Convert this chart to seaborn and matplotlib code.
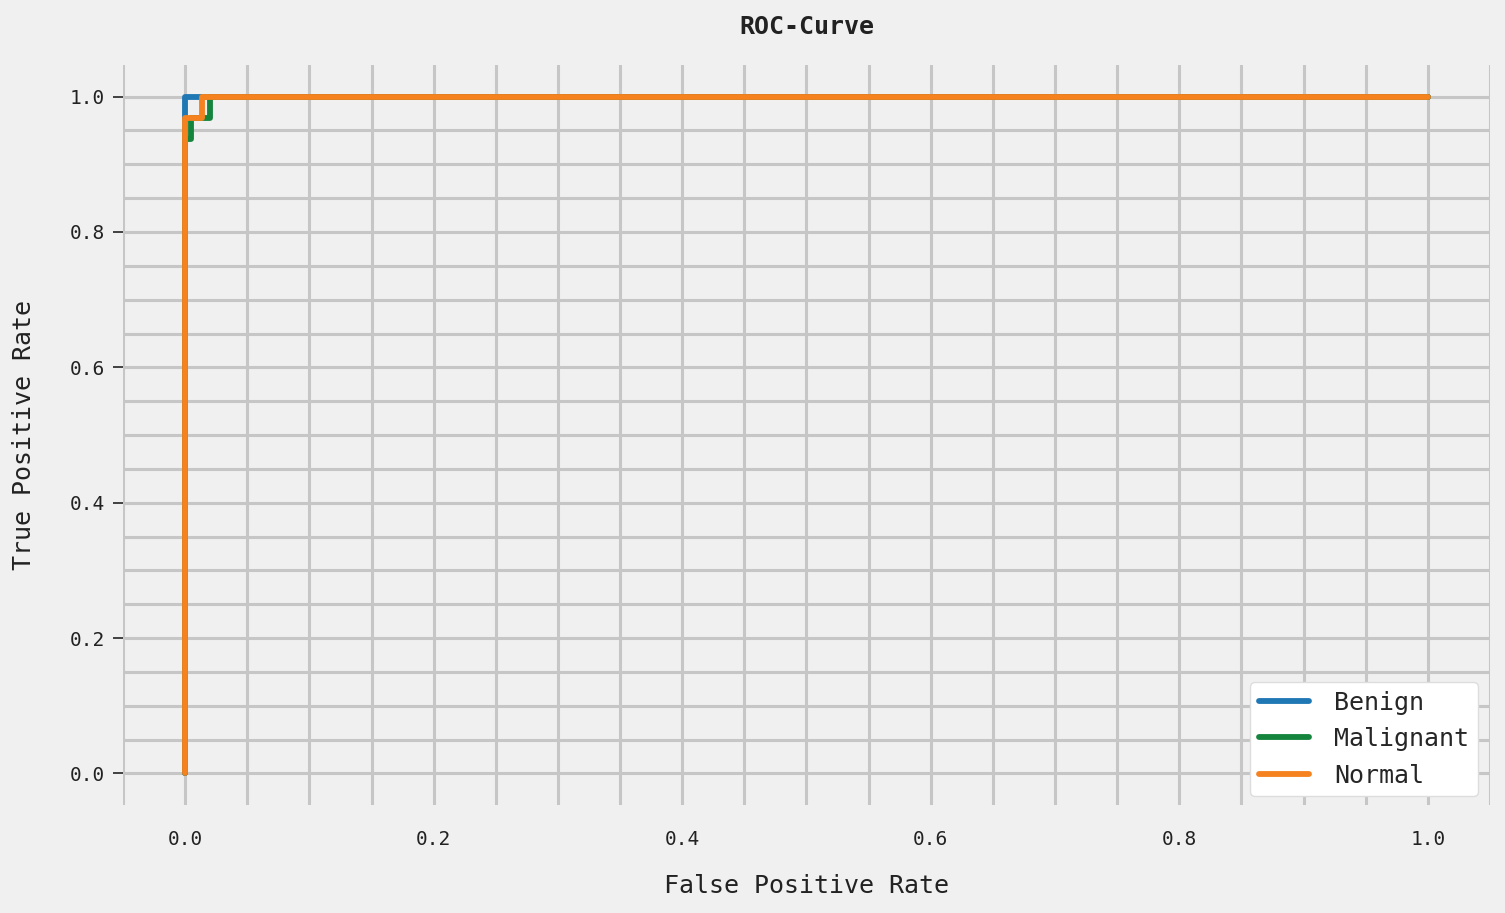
import numpy as np
import pandas as pd
import matplotlib
matplotlib.use("Agg")
import matplotlib.pyplot as plt
import seaborn as sns
from matplotlib.ticker import MultipleLocator

# ROC curve data
benign_fpr = [0.0, 0.0, 0.0, 1.0]
benign_tpr = [0.0, 0.0, 1.0, 1.0]
malignant_fpr = [0.0, 0.0, 0.005, 0.005, 0.020, 0.020, 1.0]
malignant_tpr = [0.0, 0.938, 0.938, 0.969, 0.969, 1.0, 1.0]
normal_fpr = [0.0, 0.0, 0.014, 0.014, 1.0]
normal_tpr = [0.0, 0.969, 0.969, 1.0, 1.0]
classes = ["Benign", "Malignant", "Normal"]
colors = ["#1f77b4", "#15843c", "#f5821f"]

sns.set_theme(style="whitegrid", rc={"ytick.left": True, "ytick.major.size": 6,
                                     "ytick.major.width": 1.3, "ytick.color": "#333333"})
plt.rcParams['font.family'] = ['DejaVu Sans Mono', 'DejaVu Sans']

fig = plt.figure(figsize=(15.05, 9.13), dpi=100, facecolor="#f0f0f0")
ax = fig.add_axes([0.0817, 0.118, 0.9083, 0.811])
ax.set_facecolor("#f0f0f0")

frames = []
for name, fx, ty in [("Benign", benign_fpr, benign_tpr),
                     ("Malignant", malignant_fpr, malignant_tpr),
                     ("Normal", normal_fpr, normal_tpr)]:
    frames.append(pd.DataFrame({"fpr": fx, "tpr": ty, "cls": name}))
df = pd.concat(frames, ignore_index=True)

sns.lineplot(data=df, x="fpr", y="tpr", hue="cls", hue_order=classes,
             palette=colors, sort=False, estimator=None, units="cls",
             linewidth=4.2, ax=ax)

ax.set_xlim(-0.05, 1.05)
ax.set_ylim(-0.047, 1.047)
ax.xaxis.set_major_locator(MultipleLocator(0.2))
ax.yaxis.set_major_locator(MultipleLocator(0.2))
ax.xaxis.set_minor_locator(MultipleLocator(0.05))
ax.yaxis.set_minor_locator(MultipleLocator(0.05))
ax.grid(True, which="both", color="#c6c6c6", linewidth=2.2)
ax.set_axisbelow(True)
for s in ax.spines.values():
    s.set_visible(False)

ax.tick_params(axis="x", which="both", length=0, pad=18, labelsize=14, labelcolor="#222222")
ax.yaxis.set_tick_params(which="major", left=True, length=7, width=1.3, color="#333333",
                         pad=6, labelsize=14, labelcolor="#222222")
ax.yaxis.set_tick_params(which="minor", left=False, length=0)
ax.set_xticklabels([f"{v:.1f}" for v in ax.get_xticks()])
ax.set_yticklabels([f"{v:.1f}" for v in ax.get_yticks()])

ax.set_xlabel("False Positive Rate", fontsize=18, color="#222222", labelpad=18)
ax.set_ylabel("True Positive Rate", fontsize=18, color="#222222", labelpad=24)
ax.set_title("ROC-Curve", fontsize=18, fontweight="bold", color="#222222", pad=22)

leg = ax.legend(loc="lower right", fontsize=18, frameon=True, handlelength=2.0,
                handletextpad=1.0, borderpad=0.35, labelspacing=0.5,
                borderaxespad=0.0, bbox_to_anchor=(0.991, 0.012))
leg.get_frame().set_facecolor("white")
leg.get_frame().set_edgecolor("#dddddd")
leg.get_frame().set_alpha(1)
for line in leg.get_lines():
    line.set_linewidth(4.2)

fig.savefig("out.png", dpi=100, facecolor=fig.get_facecolor())
